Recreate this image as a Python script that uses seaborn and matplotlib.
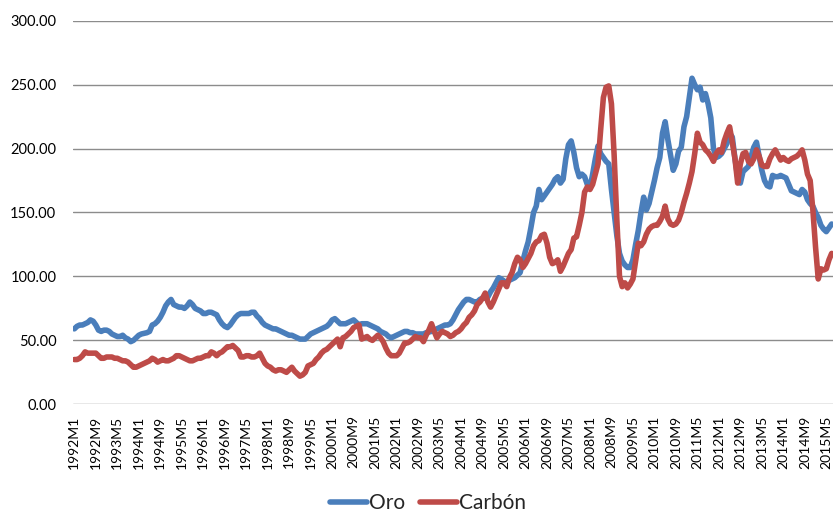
"""
Oro vs Carbón, índices mensuales 1992M1–2015M7 (estilo gráfico de Excel).
"""

import matplotlib
matplotlib.use("Agg")
import matplotlib.pyplot as plt
import pandas as pd
import seaborn as sns
from matplotlib.ticker import FormatStrFormatter, FixedLocator

# ── Datos (un valor por mes) ──────────────────────────────────────

start_year = 1992
n_months = 283
tick_step = 8

oro = [
    59, 61, 62, 62, 63, 64, 66, 65, 62, 58, 57, 58,            # 1992
    58, 57, 55, 54, 53, 53, 54, 52, 51, 49, 50, 52,            # 1993
    54, 55, 55.5, 56, 57, 62, 63, 65, 68, 72, 77, 80,          # 1994
    82, 78, 77, 76, 76, 75, 77, 80, 78, 75, 74, 73,            # 1995
    71, 71, 72, 72, 71, 70, 66, 63, 61, 60, 62, 65,            # 1996
    68, 70, 71, 71, 71, 71, 72, 72, 69, 67, 64, 62,            # 1997
    61, 60, 59, 59, 58, 57, 56, 55, 54, 54, 53, 52,            # 1998
    51, 51, 51, 53, 55, 56, 57, 58, 59, 60, 61, 63,            # 1999
    66, 67, 65, 63, 63, 63, 64, 65, 66, 64, 62, 63,            # 2000
    63, 63, 62, 61, 60, 59, 57, 56, 55, 53, 52, 53,            # 2001
    54, 55, 56, 57, 57, 56, 56, 55, 55, 55, 55, 56,            # 2002
    56.5, 57, 58, 59, 60, 61, 62, 62, 63, 66, 70, 74,          # 2003
    77, 80, 82, 82, 81, 80, 80, 82, 83, 83, 84, 88,            # 2004
    91, 95, 99, 98, 96, 96, 97, 98, 99, 101, 103, 112,         # 2005
    120, 127, 138, 150, 155, 168, 160, 163, 166, 169, 172, 176,  # 2006
    178, 173, 176, 192, 203, 206, 197, 185, 178, 180, 178, 172,  # 2007
    169, 180, 192, 202, 196, 193, 190, 188, 168, 150, 132, 118,  # 2008
    112, 109, 107, 107, 113, 125, 136, 150, 162, 152, 157, 166,  # 2009
    175, 185, 193, 212, 221, 207, 195, 183, 188, 198, 201, 217,  # 2010
    225, 240, 255, 250, 246, 248, 238, 243, 235, 224, 200, 193,  # 2011
    194, 196, 200, 204, 212, 209, 192, 178, 173, 182, 184, 186,  # 2012
    194, 201, 205, 194, 183, 175, 171, 170, 179, 178, 178, 179,  # 2013
    178, 177, 172, 167, 166, 165, 164, 168, 166, 160, 157, 155,  # 2014
    150, 146, 140, 137, 135, 138, 141,                           # 2015
]

carbon = [
    35, 35, 36, 38, 41, 40, 40, 40, 40, 38, 36, 36,            # 1992
    37, 37, 37, 36, 36, 35, 34, 34, 33, 31, 29, 29,            # 1993
    30, 31, 32, 33, 34, 36, 35, 33, 34, 35, 34, 34,            # 1994
    35, 36, 38, 38, 37, 36, 35, 34, 34, 35, 36, 36,            # 1995
    37, 38, 38, 41, 40, 38, 40, 41, 43, 45, 45, 46,            # 1996
    44, 42, 37, 37, 38, 38, 37, 37, 38, 40, 36, 32,            # 1997
    30, 29, 27, 26, 27, 27, 26, 25, 27, 29, 26, 24,            # 1998
    22, 23, 25, 30, 31, 32, 35, 37, 40, 42, 43, 45,            # 1999
    47, 49, 51, 45, 52, 53, 55, 57, 60, 61, 62, 51,            # 2000
    52, 53, 51, 50, 52, 54, 52, 49, 44, 40, 38, 38,            # 2001
    38, 40, 44, 48, 48, 49, 51, 53, 52, 52, 49, 54,            # 2002
    58, 63, 57, 52, 55, 57, 56, 55, 53, 54, 56, 57,            # 2003
    59, 62, 64, 68, 70, 73, 78, 80, 83, 87, 80, 76,            # 2004
    80, 85, 90, 95, 95, 92, 99, 103, 110, 115, 113, 107,       # 2005
    110, 114, 118, 124, 127, 128, 132, 133, 126, 115, 110, 111,  # 2006
    113, 104, 108, 113, 118, 121, 130, 131, 140, 150, 166, 170,  # 2007
    168, 172, 180, 188, 215, 240, 248, 249, 235, 195, 145, 100,  # 2008
    92, 95, 91, 94, 98, 112, 126, 124, 127, 133, 137, 139,       # 2009
    140, 140, 143, 147, 155, 145, 141, 140, 141, 144, 150, 158,  # 2010
    165, 173, 182, 196, 212, 205, 203, 199, 197, 194, 190, 196,  # 2011
    199, 197, 206, 212, 217, 205, 192, 173, 188, 196, 197, 190,  # 2012
    188, 192, 199, 194, 187, 186, 186, 192, 196, 199, 195, 191,  # 2013
    193, 191, 190, 192, 193, 194, 196, 199, 191, 180, 175, 152,  # 2014
    123, 98, 106, 105, 106, 113, 118,                            # 2015
]

series_names = ["Oro", "Carbón"]
colors = ["#4A7EBB", "#BE4B48"]
y_ticks = [0, 50, 100, 150, 200, 250, 300]

month_labels = [f"{start_year + k // 12}M{k % 12 + 1}" for k in range(n_months)]

df = pd.DataFrame({
    "t": list(range(n_months)) * 2,
    "valor": oro + carbon,
    "serie": ["Oro"] * n_months + ["Carbón"] * n_months,
})

# ── Gráfico ───────────────────────────────────────────────────────

sns.set_theme(style="white")
plt.rcParams["font.family"] = ["Lato", "DejaVu Sans"]

fig = plt.figure(figsize=(8.38, 5.12), dpi=100)
ax = fig.add_axes([73 / 838, 1 - 404.3 / 512, 760 / 838, (404.3 - 20.7) / 512])

sns.lineplot(
    data=df, x="t", y="valor", hue="serie",
    hue_order=series_names, palette=colors,
    linewidth=4.0, legend=False, ax=ax,
    solid_joinstyle="round", solid_capstyle="round",
)

ax.set_xlim(-0.5, n_months - 0.5)
ax.set_ylim(0, 300)
ax.yaxis.set_major_locator(FixedLocator(y_ticks))
ax.yaxis.set_major_formatter(FormatStrFormatter("%.2f"))
ax.grid(axis="y", color="#8C8C8C", linewidth=1.0)
ax.set_axisbelow(True)

tick_pos = list(range(0, n_months, tick_step))
ax.set_xticks(tick_pos)
ax.set_xticklabels([month_labels[p] for p in tick_pos], rotation=90,
                   fontsize=10, color="black")
ax.tick_params(axis="x", length=0, pad=8)
ax.tick_params(axis="y", length=0, pad=12, labelsize=10.5, labelcolor="black")
ax.set_xlabel("")
ax.set_ylabel("")
for s in ax.spines.values():
    s.set_visible(False)

handles = ax.get_lines()[:2]
fig.legend(handles, series_names, loc="center",
           bbox_to_anchor=(428 / 838, 9 / 512), ncol=2, frameon=False,
           fontsize=15, handlelength=1.8, handletextpad=0.1,
           columnspacing=0.7)

fig.savefig("out.png", dpi=100, facecolor="white")
